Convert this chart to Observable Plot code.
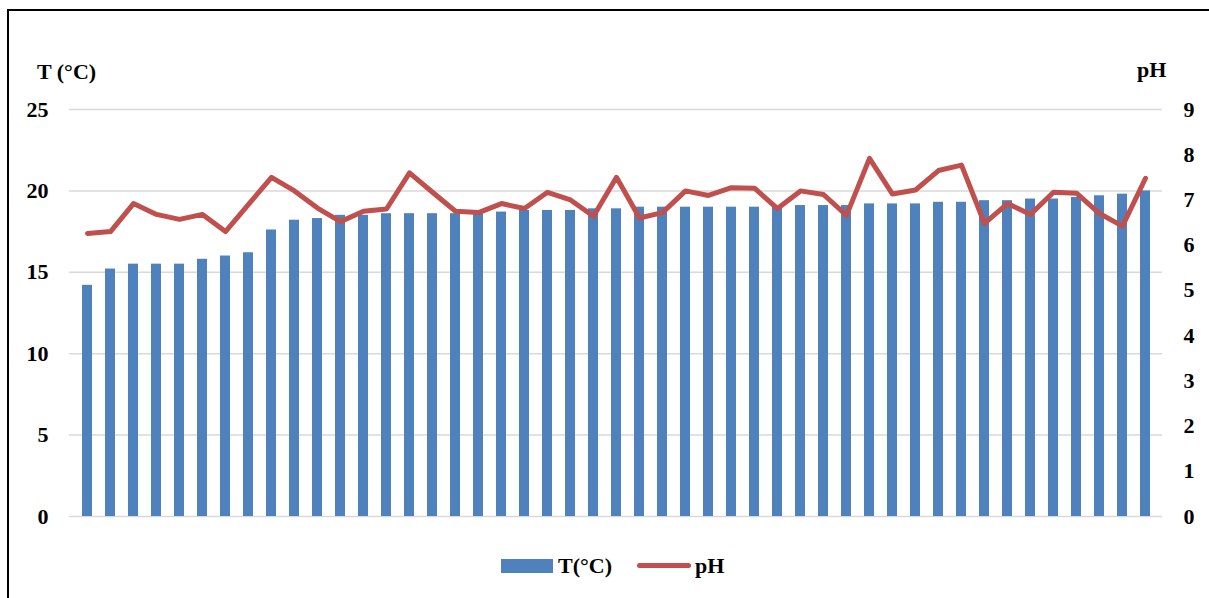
<!DOCTYPE html>
<html>
<head>
<meta charset="utf-8">
<script src="https://cdn.jsdelivr.net/npm/d3@7"></script>
<script src="https://cdn.jsdelivr.net/npm/@observablehq/plot@0.6"></script>
<style>
  html, body { margin: 0; padding: 0; background: #fff; overflow: hidden; width: 1209px; height: 598px; }
  #wrap { position: relative; width: 1209px; height: 598px; font-family: "Liberation Serif", "Times New Roman", serif; font-weight: bold; color: #000; }
  #frame { position: absolute; left: 7px; top: 9px; width: 1400px; height: 800px; border: 2px solid #000; box-sizing: border-box; }
  #chart { position: absolute; left: 0; top: 0; }
  .lbl { position: absolute; font-size: 22px; line-height: 1; white-space: nowrap; }
</style>
</head>
<body>
<div id="wrap">
  <div id="frame"></div>
  <div id="chart"></div>
  <div class="lbl" id="ytitle" style="left:37px; top:61px;">T (°C)</div>
  <div class="lbl" id="y2title" style="left:1137px; top:59px;">pH</div>
  <div id="legend">
    <div style="position:absolute; left:501px; top:559px; width:52px; height:14px; background:#4F81BD;"></div>
    <div class="lbl" style="left:558px; top:555px;">T(°C)</div>
    <div style="position:absolute; left:637px; top:563px; width:54px; height:5px; border-radius:3px; background:#C0504D;"></div>
    <div class="lbl" style="left:695px; top:555px;">pH</div>
  </div>
</div>
<script>
const days = d3.range(1, 48);
const temperature = [14.2, 15.2, 15.5, 15.5, 15.5, 15.8, 16.0, 16.2, 17.6, 18.2, 18.3, 18.5, 18.5, 18.6, 18.6, 18.6, 18.6, 18.6, 18.7, 18.8, 18.8, 18.8, 18.9, 18.9, 19.0, 19.0, 19.0, 19.0, 19.0, 19.0, 19.0, 19.1, 19.1, 19.1, 19.2, 19.2, 19.2, 19.3, 19.3, 19.4, 19.4, 19.5, 19.5, 19.6, 19.7, 19.8, 20.0];
const ph = [6.26, 6.3, 6.92, 6.68, 6.57, 6.68, 6.3, 6.9, 7.5, 7.2, 6.82, 6.52, 6.75, 6.8, 7.6, 7.17, 6.75, 6.72, 6.92, 6.81, 7.17, 7.0, 6.64, 7.5, 6.6, 6.72, 7.2, 7.1, 7.27, 7.26, 6.81, 7.2, 7.12, 6.66, 7.92, 7.13, 7.22, 7.65, 7.77, 6.48, 6.92, 6.68, 7.17, 7.15, 6.7, 6.42, 7.48];
const tTicks = [0, 5, 10, 15, 20, 25];
const phTicks = [0, 1, 2, 3, 4, 5, 6, 7, 8, 9];
const tMax = 25, phMax = 9;

const rows = days.map((d, i) => ({day: d, t: temperature[i], ph: ph[i]}));
const toT = v => v * tMax / phMax;

const chart = Plot.plot({
  width: 1209,
  height: 598,
  marginLeft: 69,
  marginRight: 47,
  marginTop: 109,
  marginBottom: 82,
  style: {fontFamily: "'Liberation Serif', 'Times New Roman', serif", fontSize: "22px", fontWeight: "bold", background: "transparent", overflow: "visible"},
  x: {type: "band", domain: days, paddingInner: 0.57, paddingOuter: 0.285, axis: null},
  y: {domain: [0, tMax]},
  marks: [
    Plot.gridY(tTicks, {stroke: "#D9D9D9", strokeOpacity: 1, strokeWidth: 1.5}),
    Plot.axisY(tTicks, {anchor: "left", tickSize: 0, tickPadding: 21, label: null}),
    Plot.axisY(phTicks.map(toT), {anchor: "right", tickSize: 0, tickPadding: 21, label: null,
      tickFormat: d => String(Math.round(d * phMax / tMax))}),
    Plot.barY(rows, {x: "day", y: "t", fill: "#4F81BD"}),
    Plot.line(rows, {x: "day", y: d => toT(d.ph), stroke: "#C0504D", strokeWidth: 5, strokeLinejoin: "round", strokeLinecap: "round"})
  ]
});
document.getElementById("chart").appendChild(chart);
</script>
</body>
</html>
